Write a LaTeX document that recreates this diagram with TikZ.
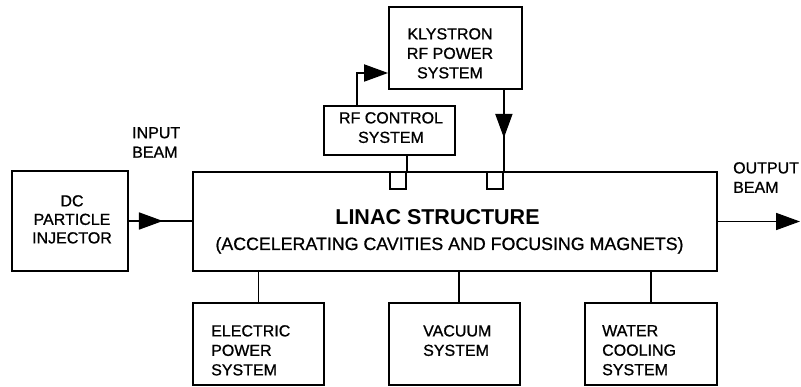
\documentclass[tikz,border=0pt]{standalone}
\usepackage{fontspec}
\setmainfont{Liberation Sans}
\newfontfamily\lblfont{Liberation Sans}[FakeBold=0.9]
\usetikzlibrary{arrows.meta,decorations.markings}
\begin{document}
\begin{tikzpicture}[x=1pt,y=-1pt,
  box/.style={draw, line width=1.8pt, inner sep=0pt},
  lbl/.style={inner sep=0pt, font=\lblfont\fontsize{16}{19.5}\selectfont},
  conn/.style={line width=1.8pt},
  tip/.style={-{Triangle[length=24pt,width=17pt]}},
  midtip/.style={postaction={decorate}, decoration={markings, mark=at position #1 with {\arrow{Triangle[length=24pt,width=17pt]}}}},
]
\fill[white] (0,0) rectangle (801,387);
\useasboundingbox (0,0) rectangle (801,387);

% boxes
\node[box, minimum width=116pt, minimum height=100pt] (inj) at (70,221) {};
\node[box, minimum width=524pt, minimum height=99pt] (linac) at (455,221.5) {};
\node[box, minimum width=133pt, minimum height=82pt] (kly) at (455.5,48) {};
\node[box, minimum width=131pt, minimum height=49pt] (rfc) at (389.5,130.5) {};
\node[box, minimum width=131pt, minimum height=82pt] (elec) at (258.5,344) {};
\node[box, minimum width=131pt, minimum height=82pt] (vac) at (454.5,344) {};
\node[box, minimum width=132pt, minimum height=82pt] (water) at (651,344) {};
\node[box, minimum width=16pt, minimum height=17pt] (sq1) at (398,180.5) {};
\node[box, minimum width=16pt, minimum height=17pt] (sq2) at (495,180.5) {};

% texts
\node[lbl, anchor=north, align=center, font=\lblfont\fontsize{16}{18.5}\selectfont] (injt) at (72,195) {DC\\PARTICLE\\INJECTOR};
\node[lbl, anchor=north west, align=left] (int) at (132,127) {INPUT\\BEAM};
\node[lbl, anchor=north west, align=left] (outt) at (733,162) {OUTPUT\\BEAM};
\node[lbl, anchor=north, align=center] (klyt) at (450,28) {KLYSTRON\\RF POWER\\SYSTEM};
\node[lbl, anchor=north, align=center] (rfct) at (391,112) {RF CONTROL\\SYSTEM};
\node[lbl, anchor=north west, align=left] (elect) at (211,325) {ELECTRIC\\POWER\\SYSTEM};
\node[lbl, anchor=north west, align=left] (vact) at (423,325) {VACUUM\\SYSTEM};
\node[lbl, anchor=north west, align=left] (watert) at (602,325) {WATER\\COOLING\\SYSTEM};
\node[anchor=base, inner sep=0pt, font=\fontsize{21.5}{24}\selectfont\bfseries] (lint) at (437.5,225) {LINAC STRUCTURE};
\node[anchor=base, inner sep=0pt, font=\lblfont\fontsize{17.8}{20}\selectfont] (lins) at (449.5,250) {(ACCELERATING CAVITIES AND FOCUSING MAGNETS)};

% connectors
\draw[conn, midtip=34pt] (inj.east) -- (inj.east -| linac.west);
\coordinate (outend) at (800,221.5);
\draw[conn, tip] (linac.east) -- (outend);
\draw[conn] (sq1.north east) -- (sq1.north east |- rfc.south);
\draw[conn, tip] ([xshift=-32.5pt]rfc.north) |- ([yshift=-25pt]kly.west);
\draw[conn, midtip=48pt] (sq2.north east |- kly.south) -- (sq2.north east);
\draw[conn] (elec.north) -- (elec.north |- linac.south);
\draw[conn] ([xshift=4.5pt]vac.north) -- ([xshift=4.5pt]vac.north |- linac.south);
\draw[conn] (water.north) -- (water.north |- linac.south);
\end{tikzpicture}
\end{document}
